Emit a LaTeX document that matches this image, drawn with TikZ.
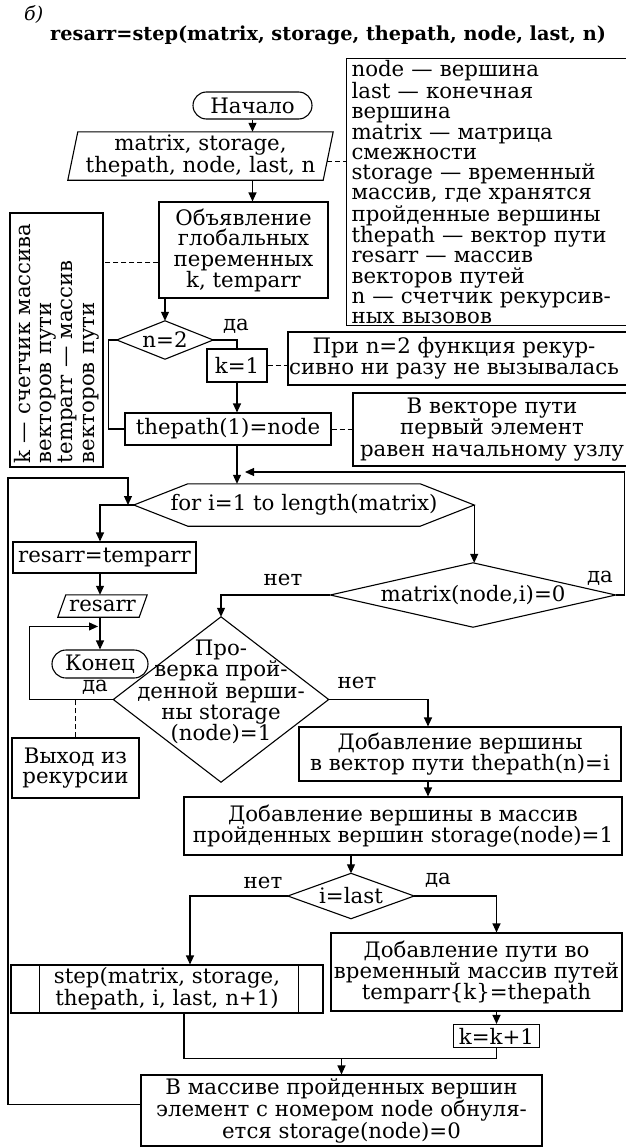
\documentclass[tikz,border=0pt]{standalone}
\usepackage{fontspec}
\setmainfont{DejaVu Serif}
\usetikzlibrary{arrows.meta,calc}
\newcommand\myfont{\fontsize{21.3}{20.7}\selectfont}
\begin{document}
\begin{tikzpicture}[x=1pt,y=-1pt,
  ln/.style={line width=1.1pt},
  arr/.style={line width=1.1pt,-{Triangle[length=9pt,width=8pt]}},
  dsh/.style={line width=0.9pt,dash pattern=on 5pt off 3pt},
  box/.style={draw,line width=1.1pt,inner sep=0pt,align=center,font=\myfont},
  shp/.style={inner sep=0pt,align=center,font=\myfont},
  lbl/.style={inner sep=0pt,font=\myfont},
  term/.style={box,rounded corners=13.5pt},
]
\useasboundingbox (0,0) rectangle (625,1148);

% title
\node[anchor=base west,inner sep=0pt,font=\fontsize{19}{19}\selectfont\itshape] (lab) at (24,21) {б)};
\node[anchor=base west,inner sep=0pt,font=\fontsize{19.3}{20}\selectfont\bfseries] (title) at (50,41) {resarr=step(matrix, storage, thepath, node, last, n)};

% notes
\node[draw,line width=1.1pt,anchor=north west,minimum height=267,text width=292,align=left,inner xsep=5pt,inner ysep=0pt,font=\fontsize{21.3}{20.1}\selectfont] (note1) at (346,58)
 {node — вершина\\last — конечная\\вершина\\matrix — матрица\\смежности\\storage — временный\\массив, где хранятся\\пройденные вершины\\thepath — вектор пути\\resarr — массив\\векторов путей\\n — счетчик рекурсив-\\ных вызовов};
\node[box,minimum width=254,minimum height=93,rotate=90,text width=246,align=left,inner xsep=4pt,font=\fontsize{21.3}{21.3}\selectfont] (lnote) at (56.5,340)
 {k — счетчик массива\\векторов пути\\temparr — массив\\векторов пути};
\node[box,minimum width=350,minimum height=53] (note2) at (463,358.5) {};
\node[shp] (note2t) at (454,358.5) {При n=2 функция рекур-\\сивно ни разу не вызывалась};
\node[box,minimum width=278,minimum height=73,font=\fontsize{21.3}{21.8}\selectfont] (note3) at (492,429.5) {В векторе пути\\первый элемент\\равен начальному узлу};

% main flow
\node[term,minimum width=119,minimum height=27] (start) at (252.5,105.5) {Начало};
\node[shp,minimum width=255,minimum height=48] (inp) at (200.5,156) {matrix, storage,\\thepath, node, last, n};
\node[box,minimum width=169,minimum height=96] (decl) at (243.5,250) {Объявление\\глобальных\\переменных\\k, temparr};
\node[shp,minimum width=96,minimum height=38] (d1) at (165,340) {n=2};
\node[box,minimum width=60,minimum height=33] (k1) at (237,365.5) {k=1};
\node[box,minimum width=206,minimum height=32] (tp1) at (228,429) {thepath(1)=node};
\node[shp,minimum width=340,minimum height=42] (hex) at (304,505) {for i=1 to length(matrix)};
\node[box,minimum width=183,minimum height=31] (rt) at (104.5,557.5) {resarr=temparr};
\node[shp,minimum width=81,minimum height=22] (out) at (102.5,606) {resarr};
\node[term,minimum width=96,minimum height=28,rounded corners=14pt] (endn) at (100,664) {Конец};
\node[shp,minimum width=285,minimum height=64] (md) at (473,595) {matrix(node,i)=0};
\node[shp,minimum width=215,minimum height=165] (d2) at (221,699.5) {};
\node[shp,font=\fontsize{21.3}{21.3}\selectfont] (d2t) at (221,692) {Про-\\верка прой-\\денной верши-\\ны storage\\(node)=1};
\node[box,minimum width=127,minimum height=60] (exit) at (75.5,768) {Выход из\\рекурсии};
\node[box,minimum width=322,minimum height=54] (add1) at (460,754) {Добавление вершины\\в вектор пути thepath(n)=i};
\node[box,minimum width=438,minimum height=58] (add2) at (403,826) {Добавление вершины в массив\\пройденных вершин storage(node)=1};
\node[shp,minimum width=126,minimum height=45] (d3) at (351,896) {i=last};
\node[box,minimum width=312,minimum height=48] (step) at (167,989) {step(matrix, storage,\\thepath, i, last, n+1)};
\node[box,minimum width=291,minimum height=78,font=\fontsize{21.3}{21}\selectfont] (add3) at (476.5,972) {Добавление пути во\\временный массив путей\\temparr\{k\}=thepath};
\node[box,minimum width=86,minimum height=23] (kk) at (496.5,1036) {k=k+1};
\node[box,minimum width=401,minimum height=71,font=\fontsize{21.3}{20}\selectfont] (fin) at (341.5,1110.5) {В массиве пройденных вершин\\элемент с номером node обнуля-\\ется storage(node)=0};

% shapes drawn from node anchors
\draw[ln] ($(inp.north west)+(5,0)$) -- ($(inp.north east)+(5,0)$) -- ($(inp.south east)+(-5,0)$) -- ($(inp.south west)+(-5,0)$) -- cycle;
\draw[ln] ($(out.north west)+(4,0)$) -- ($(out.north east)+(4,0)$) -- ($(out.south east)+(-4,0)$) -- ($(out.south west)+(-4,0)$) -- cycle;
\draw[ln] (d1.north) -- (d1.east) -- (d1.south) -- (d1.west) -- cycle;
\draw[ln] (md.north) -- (md.east) -- (md.south) -- (md.west) -- cycle;
\draw[ln] (d2.north) -- (d2.east) -- (d2.south) -- (d2.west) -- cycle;
\draw[ln] (d3.north) -- (d3.east) -- (d3.south) -- (d3.west) -- cycle;
\draw[ln] (hex.west) -- ($(hex.north west)+(54,0)$) -- ($(hex.north east)+(-54,0)$) -- (hex.east) -- ($(hex.south east)+(-54,0)$) -- ($(hex.south west)+(54,0)$) -- cycle;
\draw[ln] ($(step.north west)+(29,0)$) -- ($(step.south west)+(29,0)$);
\draw[ln] ($(step.north east)+(-25,0)$) -- ($(step.south east)+(-25,0)$);

% helper coordinates
\coordinate (c428) at (428,0);
\coordinate (c190) at (190,0);
\coordinate (c184) at (184,0);
\coordinate (loopx) at (8,478);
\coordinate (hexin) at (128,505);

% connectors
\draw[arr] (start.south) -- (start.south |- inp.north);
\draw[arr] (inp.south -| start) -- (decl.north -| start);
\draw[arr] (decl.south -| d1) -- (d1.north);
\draw[ln] (d1.east) -| (k1.north);
\draw[ln] (d1.west) -- ++(-8,0) |- (tp1.west);
\draw[arr] (k1.south) -- (k1.south |- tp1.north);
\draw[arr] (tp1.south -| k1) -- (hex.north -| k1);
\draw[arr] (md.east) -- ++(8.5,0) |- ($(k1.south |- 0,472)+(8,0)$);
\draw[arr] ($(fin.west)+(0,-6)$) -| (loopx) -- (loopx -| hexin) -- (hexin);
\draw[arr] (hex.west) -| (rt.north -| endn);
\draw[arr] (rt.south -| endn) -- (out.north -| endn);
\draw[arr] (out.south -| endn) -- (endn.north);
\draw[arr] (d2.west) -- ++(-84,0) |- ($(endn.north)+(-2,-23)$);
\draw[dsh] (exit.north) -- (exit.north |- d2.west);
\draw[arr] (hex.east) -- (hex.east |- md.north);
\draw[arr] (md.west) -| (d2.north);
\draw[arr] (d2.east) -| (add1.north -| c428);
\draw[arr] (add1.south -| c428) -- (add2.north -| c428);
\draw[arr] (add2.south -| d3) -- (d3.north);
\draw[arr] (d3.west) -| (step.north -| c190);
\draw[arr] (d3.east) -| (add3.north -| kk);
\draw[arr] (add3.south -| kk) -- (kk.north);
\coordinate (j2) at ($(kk.south)+(0,10)$);
\draw[ln] (kk.south) -- (j2) -| (step.south -| c184);
\draw[arr] (j2 -| fin.north) -- (fin.north);

% dashed annotation links
\coordinate (q1) at ($(inp.east)+(-1,5)$);
\draw[dsh] (q1) -- (q1 -| note1.west);
\coordinate (q2) at ($(decl.west)+(0,12)$);
\draw[dsh] (q2) -- (q2 -| lnote.south);
\draw[dsh] (k1.east) -- (k1.east -| note2.west);
\draw[dsh] (tp1.east) -- (tp1.east -| note3.west);

% labels
\node[lbl] (l1) at (236,326) {да};
\node[lbl] (l2) at (283,580) {нет};
\node[lbl] (l3) at (600,578) {да};
\node[lbl] (l4) at (357,683) {нет};
\node[lbl] (l5) at (95,687) {да};
\node[lbl] (l6) at (263,883) {нет};
\node[lbl] (l7) at (438,880) {да};
\end{tikzpicture}
\end{document}
